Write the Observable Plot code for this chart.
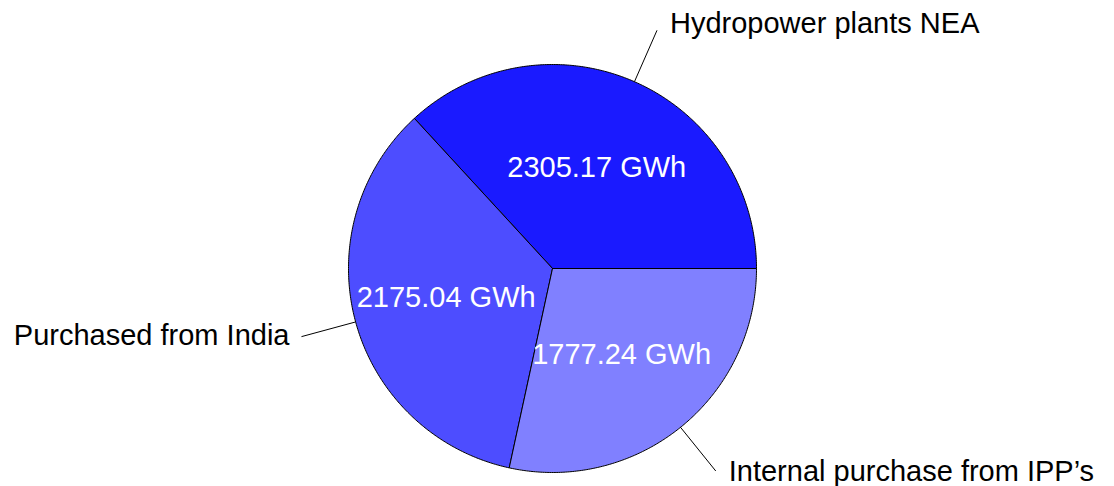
<!DOCTYPE html>
<html>
<head>
<meta charset="utf-8">
<script src="https://cdn.jsdelivr.net/npm/d3@7"></script>
<script src="https://cdn.jsdelivr.net/npm/@observablehq/plot@0.6"></script>
<style>
  html, body { margin: 0; padding: 0; background: #fff; }
  #chart svg { display: block; }
</style>
</head>
<body>
<div id="chart"></div>
<script>
// Data
const categories = ["Hydropower plants NEA", "Purchased from India", "Internal purchase from IPP\u2019s"];
const values = [2305.17, 2175.04, 1777.24];
const unit = "GWh";
const colors = ["#1a1aff", "#4d4dff", "#8080ff"];

// Geometry (chart layout)
const W = 1114, H = 486;
const R = 204;
const total = d3.sum(values);

// compute slice angles (start at east, counter-clockwise), like pgf-pie
let acc = 0;
const slices = values.map((v, i) => {
  const a0 = acc / total * 2 * Math.PI;
  acc += v;
  const a1 = acc / total * 2 * Math.PI;
  return {i, name: categories[i], value: v, color: colors[i], a0, a1, mid: (a0 + a1) / 2};
});

// slice outlines as polygons (centre -> arc -> centre)
const polyPts = [];
for (const s of slices) {
  polyPts.push({i: s.i, color: s.color, x: 0, y: 0});
  const n = Math.max(2, Math.ceil((s.a1 - s.a0) / (Math.PI / 360)));
  for (let k = 0; k <= n; k++) {
    const a = s.a0 + (s.a1 - s.a0) * k / n;
    polyPts.push({i: s.i, color: s.color, x: R * Math.cos(a), y: R * Math.sin(a)});
  }
  polyPts.push({i: s.i, color: s.color, x: 0, y: 0});
}

// value labels inside
const inner = slices.map(s => ({
  x: 0.54 * R * Math.cos(s.mid),
  y: 0.54 * R * Math.sin(s.mid),
  text: `${s.value.toFixed(2)} ${unit}`
}));

// leader lines and outer labels
const LR = 1.275;
const leaders = slices.map(s => ({
  x1: R * Math.cos(s.mid), y1: R * Math.sin(s.mid),
  x2: LR * R * Math.cos(s.mid), y2: LR * R * Math.sin(s.mid)
}));
const outer = slices.map(s => {
  const c = Math.cos(s.mid), sn = Math.sin(s.mid);
  return {
    x: LR * R * c + (c >= 0 ? 13 : -12),
    y: LR * R * sn + 2.5 + 4.14 * sn,
    anchor: c >= 0 ? "start" : "end",
    text: s.name
  };
});

const font = "'Liberation Sans', Helvetica, Arial, sans-serif";

const chart = Plot.plot({
  width: W,
  height: H,
  margin: 0,
  x: {domain: [-552, W - 552], axis: null},
  y: {domain: [268 - H, 268], axis: null},
  color: {type: "identity"},
  style: {fontFamily: font, background: "#fff"},
  marks: [
    Plot.line(polyPts, {x: "x", y: "y", z: "i", fill: "color", stroke: "black", strokeWidth: 1, curve: "linear"}),
    Plot.link(leaders, {x1: "x1", y1: "y1", x2: "x2", y2: "y2", stroke: "black", strokeWidth: 1}),
    Plot.text(inner, {x: "x", y: "y", text: "text", fill: "white", fontSize: 29, textAnchor: "middle", lineAnchor: "middle"}),
    Plot.text(outer.filter(d => d.anchor === "start"), {x: "x", y: "y", text: "text", fill: "black", fontSize: 29, textAnchor: "start", lineAnchor: "middle"}),
    Plot.text(outer.filter(d => d.anchor === "end"), {x: "x", y: "y", text: "text", fill: "black", fontSize: 29, textAnchor: "end", lineAnchor: "middle"})
  ]
});
document.getElementById("chart").appendChild(chart);
</script>
</body>
</html>
